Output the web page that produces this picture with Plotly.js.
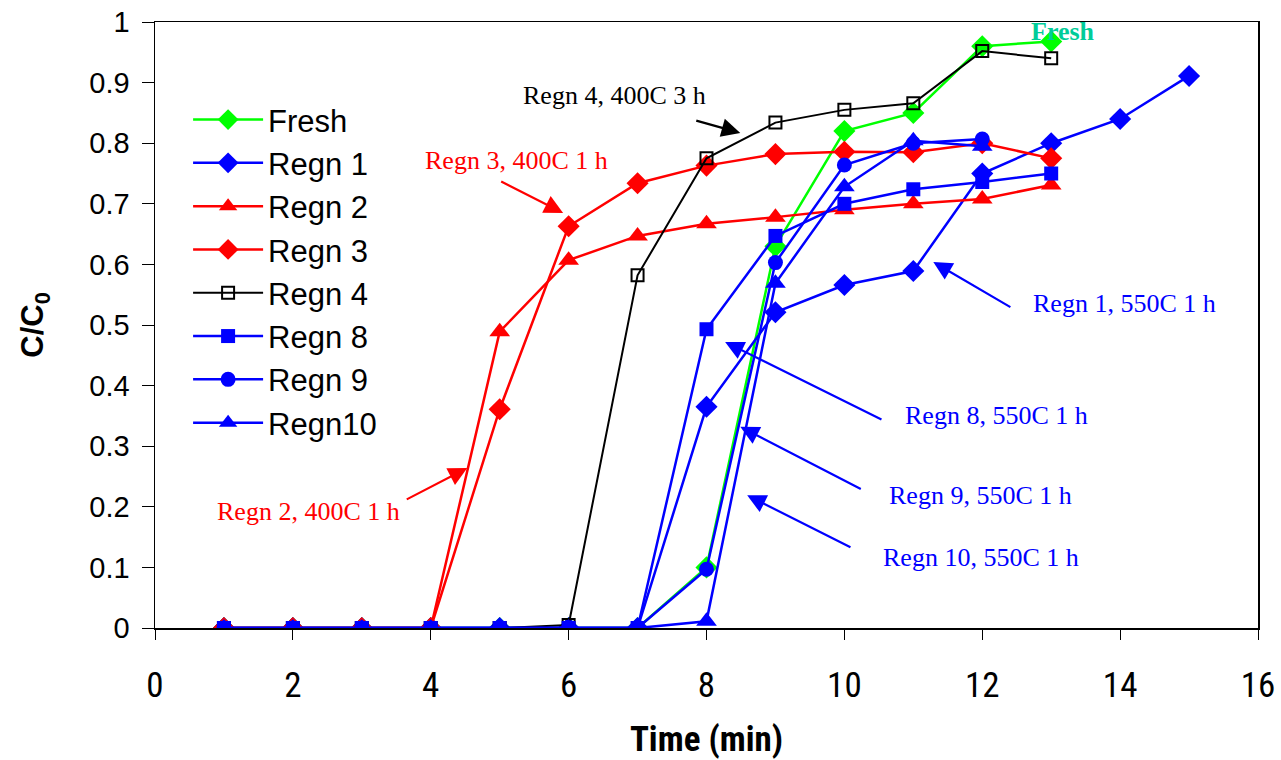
<!DOCTYPE html>
<html>
<head>
<meta charset="utf-8">
<script src="https://cdn.plot.ly/plotly-3.0.1.min.js"></script>
<style>
  html, body { margin: 0; padding: 0; background: #fff; }
  #chart { width: 1281px; height: 760px; }
</style>
</head>
<body>
<div id="chart"></div>
<script>
// ---- Data ----
const timeFresh = [1, 2, 3, 4, 5, 6, 7, 8, 9, 10, 11, 12, 13];
const fresh     = [0, 0, 0, 0, 0, 0, 0, 0.10, 0.63, 0.82, 0.85, 0.96, 0.968];

const timeRegn1 = [1, 2, 3, 4, 5, 6, 7, 8, 9, 10, 11, 12, 13, 14, 15];
const regn1     = [0, 0, 0, 0, 0, 0, 0, 0.365, 0.521, 0.566, 0.589, 0.75, 0.80, 0.84, 0.911];

const timeRegn2 = [1, 2, 3, 4, 5, 6, 7, 8, 9, 10, 11, 12, 13];
const regn2     = [0, 0, 0, 0, 0.489, 0.607, 0.647, 0.667, 0.678, 0.69, 0.70, 0.708, 0.731];

const timeRegn3 = [1, 2, 3, 4, 5, 6, 7, 8, 9, 10, 11, 12, 13];
const regn3     = [0, 0, 0, 0, 0.361, 0.663, 0.734, 0.763, 0.782, 0.786, 0.785, 0.80, 0.775];

const timeRegn4 = [1, 2, 3, 4, 5, 6, 7, 8, 9, 10, 11, 12, 13];
const regn4     = [0, 0, 0, 0, 0, 0.005, 0.582, 0.775, 0.834, 0.855, 0.866, 0.952, 0.94];

const timeRegn8 = [1, 2, 3, 4, 5, 6, 7, 8, 9, 10, 11, 12, 13];
const regn8     = [0, 0, 0, 0, 0, 0, 0, 0.493, 0.647, 0.70, 0.724, 0.736, 0.75];

const timeRegn9 = [1, 2, 3, 4, 5, 6, 7, 8, 9, 10, 11, 12];
const regn9     = [0, 0, 0, 0, 0, 0, 0, 0.097, 0.603, 0.764, 0.80, 0.807];

const timeRegn10 = [1, 2, 3, 4, 5, 6, 7, 8, 9, 10, 11, 12];
const regn10     = [0, 0, 0, 0, 0, 0, 0, 0.011, 0.569, 0.728, 0.804, 0.795];

const seriesNames = ["Fresh", "Regn 1", "Regn 2", "Regn 3", "Regn 4", "Regn 8", "Regn 9", "Regn10"];
const xTickVals = [0, 2, 4, 6, 8, 10, 12, 14, 16];
const yTickVals = [0, 0.1, 0.2, 0.3, 0.4, 0.5, 0.6, 0.7, 0.8, 0.9, 1];

const labelTexts = ["Regn 4, 400C 3 h", "Regn 3, 400C 1 h", "Regn 2, 400C 1 h",
                    "Regn 1, 550C 1 h", "Regn 8, 550C 1 h", "Regn 9, 550C 1 h", "Regn 10, 550C 1 h"];

// ---- Styles ----
const GREEN = "#00ff00", BLUE = "#0000ff", RED = "#ff0000", BLACK = "#000000";

function tr(x, y, name, color, symbol, size, extra) {
  return Object.assign({
    x: x, y: y, name: name, type: "scatter", mode: "lines+markers",
    legendgroup: name,
    line: { color: color, width: 2.5 },
    marker: { color: color, symbol: symbol, size: size, line: { width: 0 } }
  }, extra || {});
}

const traces = [
  tr(timeFresh, fresh, seriesNames[0], GREEN, "diamond", 17),
  tr(timeRegn1, regn1, seriesNames[1], BLUE, "diamond", 17),
  tr(timeRegn2, regn2, seriesNames[2], RED, "triangle-up", 18),
  tr(timeRegn3, regn3, seriesNames[3], RED, "diamond", 17),
  tr(timeRegn4, regn4, seriesNames[4], BLACK, "square-open", 12,
     { line: { color: BLACK, width: 2 }, marker: { color: BLACK, symbol: "square-open", size: 12, line: { width: 2, color: BLACK } } }),
  tr(timeRegn8, regn8, seriesNames[5], BLUE, "square", 14),
  tr(timeRegn9, regn9, seriesNames[6], BLUE, "circle", 15),
  tr(timeRegn10, regn10, seriesNames[7], BLUE, "triangle-up", 18)
];

const serif = "Liberation Serif, Times New Roman, serif";
function textAnn(text, x, y, color, extra) {
  return Object.assign({
    text: text, x: x, y: y, xref: "x", yref: "y", showarrow: false,
    font: { family: serif, size: 26, color: color }, xanchor: "center", yanchor: "middle"
  }, extra || {});
}
function arrowAnn(tailX, tailY, headX, headY, color) {
  return {
    text: "", x: headX, y: headY, xref: "x", yref: "y",
    ax: tailX, ay: tailY, axref: "x", ayref: "y",
    showarrow: true, arrowhead: 2, arrowsize: 1.7, arrowwidth: 2.2, arrowcolor: color,
    standoff: 0, startstandoff: 0
  };
}

const annotations = [
  textAnn(labelTexts[0], 6.67, 0.878, BLACK),
  arrowAnn(7.83, 0.838, 8.49, 0.817, BLACK),
  textAnn(labelTexts[1], 5.24, 0.772, RED),
  arrowAnn(5.00, 0.738, 5.92, 0.685, RED),
  textAnn(labelTexts[2], 2.22, 0.193, RED),
  arrowAnn(3.63, 0.211, 4.53, 0.264, RED),
  textAnn(labelTexts[3], 14.06, 0.536, BLUE),
  arrowAnn(12.43, 0.528, 11.29, 0.604, BLUE),
  textAnn(labelTexts[4], 12.20, 0.351, BLUE),
  arrowAnn(10.56, 0.343, 8.27, 0.472, BLUE),
  textAnn(labelTexts[5], 11.97, 0.219, BLUE),
  arrowAnn(10.26, 0.228, 8.49, 0.332, BLUE),
  textAnn(labelTexts[6], 11.98, 0.116, BLUE),
  arrowAnn(10.11, 0.132, 8.59, 0.219, BLUE),
  textAnn("<b>Fresh</b>", 13.17, 0.985, "#00cc99", { font: { family: serif, size: 26, color: "#00cc99" } })
];

const narrow = "Liberation Sans Narrow, Arial Narrow, Roboto Condensed, sans-serif";
const layout = {
  width: 1281, height: 760,
  margin: { l: 155, r: 23, t: 22, b: 132 },
  paper_bgcolor: "#ffffff", plot_bgcolor: "#ffffff",
  showlegend: true,
  legend: {
    x: 0.03, y: 0.883, xanchor: "left", yanchor: "top",
    font: { family: "Liberation Sans, Arial, sans-serif", size: 31, color: "#000" },
    bgcolor: "rgba(255,255,255,0)", borderwidth: 0,
    tracegroupgap: 0, itemwidth: 70
  },
  xaxis: {
    range: [0, 16], tickvals: xTickVals, ticktext: xTickVals.map(String),
    showgrid: false, zeroline: false,
    showline: true, linecolor: "#000", linewidth: 1.5, mirror: true,
    ticks: "outside", ticklen: 10, tickwidth: 1, tickcolor: "#000",
    ticklabelstandoff: 15,
    tickfont: { family: narrow, size: 35, color: "#000" },
    title: { text: "<b>Time (min)</b>", standoff: 22,
             font: { family: narrow, size: 35, color: "#000" } }
  },
  yaxis: {
    range: [0, 1], tickvals: yTickVals, ticktext: yTickVals.map(v => String(v)),
    showgrid: false, zeroline: false,
    showline: true, linecolor: "#000", linewidth: 1.5, mirror: true,
    ticks: "outside", ticklen: 12, tickwidth: 1, tickcolor: "#000",
    ticklabelstandoff: 6,
    tickfont: { family: "Liberation Sans, Arial, sans-serif", size: 29, color: "#000" },
    title: { text: "<b>C/C<sub>0</sub></b>", standoff: 36,
             font: { family: "Liberation Sans, Arial, sans-serif", size: 31, color: "#000" } }
  },
  annotations: annotations
};

Plotly.newPlot("chart", traces, layout, { displayModeBar: false, staticPlot: true });
</script>
</body>
</html>
